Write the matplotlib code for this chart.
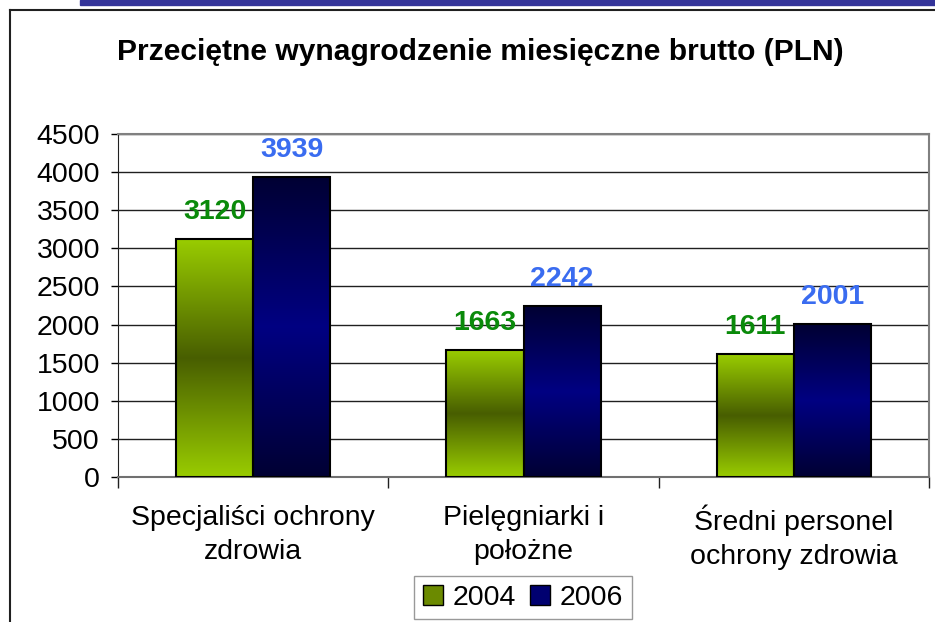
import numpy as np
import matplotlib
matplotlib.use("Agg")
import matplotlib.pyplot as plt
from matplotlib.patches import Rectangle
from matplotlib.lines import Line2D

plt.rcParams['font.family'] = ['Liberation Sans', 'DejaVu Sans']

title = "Przeciętne wynagrodzenie miesięczne brutto (PLN)"
categories = ["Specjaliści ochrony\nzdrowia", "Pielęgniarki i\npołożne",
              "Średni personel\nochrony zdrowia"]
years = ["2004", "2006"]
values_2004 = [3120, 1663, 1611]
values_2006 = [3939, 2242, 2001]
yticks = [0, 500, 1000, 1500, 2000, 2500, 3000, 3500, 4000, 4500]

# gradient colours: (edge colour, middle colour)
grad_2004 = ("#99CC00", "#485E00")
grad_2006 = ("#000033", "#000082")
label_colors = ["#0A8A0A", "#3A6CF0"]

W, H = 935, 622
fig = plt.figure(figsize=(W / 100, H / 100), dpi=100)
ax = fig.add_axes([118 / W, 1 - 477 / H, (929 - 118) / W, (477 - 134) / H])


def gradient_img(c_edge, c_mid, n=200):
    a = np.array(matplotlib.colors.to_rgb(c_edge))
    b = np.array(matplotlib.colors.to_rgb(c_mid))
    t = np.linspace(0, 1, n)
    w = 1 - np.abs(2 * t - 1)  # 0 at ends, 1 in the middle
    rows = a[None, :] * (1 - w[:, None]) + b[None, :] * w[:, None]
    return rows[:, None, :]


x = np.arange(len(categories))
bw = 0.285
series = [(values_2004, -bw / 2, grad_2004), (values_2006, bw / 2, grad_2006)]
for i, (vals, off, grad) in enumerate(series):
    bars = ax.bar(x + off, vals, bw, facecolor="none", edgecolor="black",
                  linewidth=1.5, zorder=4)
    img = gradient_img(*grad)
    for b, v in zip(bars, vals):
        x0 = b.get_x()
        im = ax.imshow(img, extent=(x0, x0 + bw, 0, v), aspect="auto",
                       origin="lower", zorder=3, interpolation="bilinear")
        im.set_clip_path(b)
        ax.annotate(str(v), (x0 + bw / 2, v), xytext=(0, 14.5),
                    textcoords="offset points", ha="center", va="baseline",
                    fontsize=20.5, fontweight="bold", color=label_colors[i],
                    zorder=5)

ax.set_xlim(-0.5, 2.5)
ax.set_ylim(0, 4500)
ax.set_yticks(yticks)
ax.tick_params(axis="y", labelsize=20.5, length=5, width=1, pad=8, colors="black")
ax.yaxis.grid(True, color="#202020", linewidth=1)
ax.set_axisbelow(True)

ax.set_xticks([-0.5, 0.5, 1.5, 2.5])
ax.set_xticklabels([])
ax.tick_params(axis="x", which="major", length=8, width=1, color="#202020")
ax.set_xticks(x, minor=True)
ax.set_xticklabels(categories, minor=True, fontsize=20.5, linespacing=1.4)
ax.tick_params(axis="x", which="minor", length=0, pad=20)

ax.spines["left"].set_color("#202020")
ax.spines["bottom"].set_color("#707070")
ax.spines["bottom"].set_linewidth(1.5)
for s in ("top", "right"):
    ax.spines[s].set_color("#808080")
    ax.spines[s].set_linewidth(1.5)

fig.text(480 / W, 1 - 60 / H, title, ha="center", va="baseline",
         fontsize=21.6, fontweight="bold")

handles = [Rectangle((0, 0), 1, 1, facecolor="#6B8A00", edgecolor="black"),
           Rectangle((0, 0), 1, 1, facecolor="#000070", edgecolor="black")]
leg = fig.legend(handles, years, loc="upper center",
                 bbox_to_anchor=(523 / W, 1 - 576 / H), ncol=2, fontsize=20.5,
                 frameon=True, fancybox=False, edgecolor="#808080",
                 handlelength=0.7, handleheight=0.7, handletextpad=0.35,
                 columnspacing=0.5, borderpad=0.3, borderaxespad=0)
leg.get_frame().set_linewidth(1)

# outer frame and top band
fig.add_artist(Line2D([10 / W, 1], [1 - 10 / H, 1 - 10 / H], color="#202020",
                      linewidth=1.5, transform=fig.transFigure))
fig.add_artist(Line2D([10 / W, 10 / W], [0, 1 - 10 / H], color="#202020",
                      linewidth=1.5, transform=fig.transFigure))
fig.add_artist(Rectangle((80 / W, 1 - 5 / H), 1, 5 / H, color="#333399",
                         transform=fig.transFigure))

fig.savefig("out.png", dpi=100)
